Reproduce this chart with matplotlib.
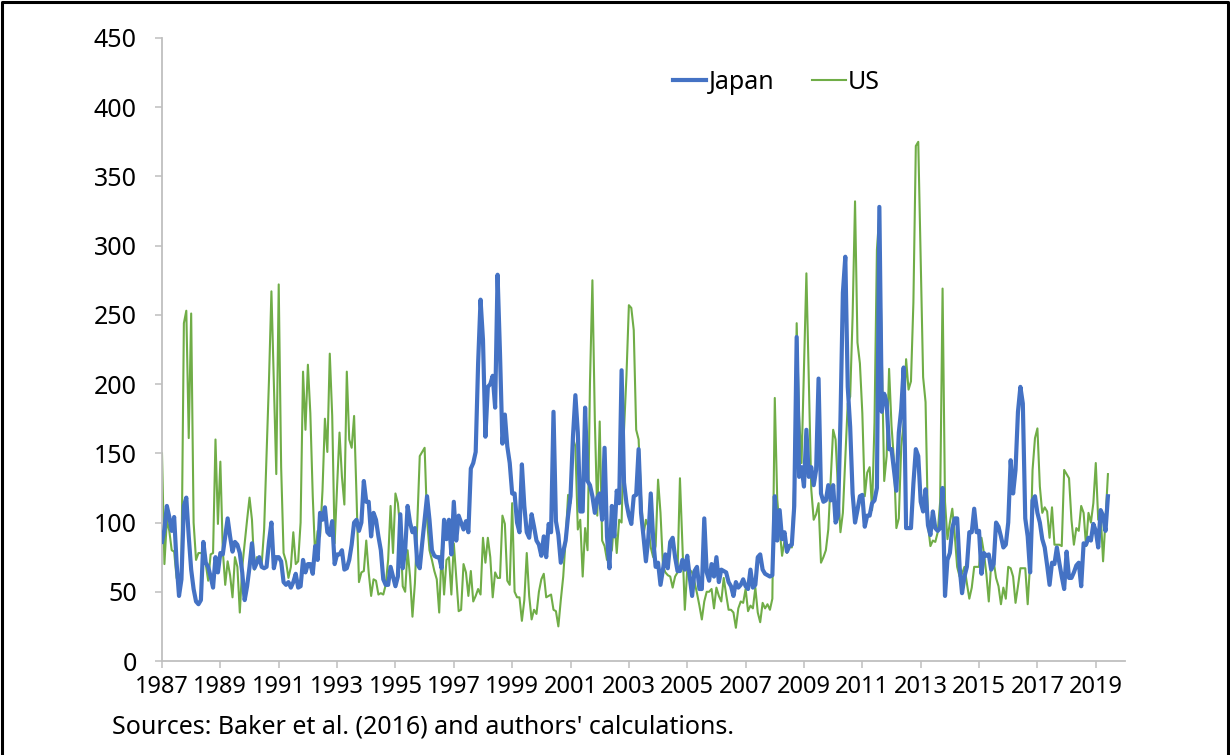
import matplotlib
matplotlib.use("Agg")
import matplotlib.pyplot as plt
from matplotlib.lines import Line2D
import numpy as np

plt.rcParams['font.family'] = ['Noto Sans', 'DejaVu Sans']

start_year = 1987
tick_years = list(range(1987, 2020, 2))
y_ticks = [0, 50, 100, 150, 200, 250, 300, 350, 400, 450]

# Monthly values, Jan 1987 - Jun 2019
japan = [
    86, 95, 112, 104, 94, 104, 71, 47, 59, 112, 118, 90,          # 1987
    66, 52, 43, 41, 44, 86, 71, 68, 61, 53, 75, 64,               # 1988
    78, 77, 90, 103, 90, 79, 86, 84, 78, 64, 44, 54,              # 1989
    68, 85, 67, 71, 75, 68, 67, 68, 86, 100, 67, 75,              # 1990
    75, 72, 57, 55, 57, 53, 57, 63, 53, 54, 73, 64,               # 1991
    70, 70, 63, 83, 73, 107, 102, 111, 93, 91, 101, 70,           # 1992
    77, 77, 80, 66, 67, 73, 84, 100, 102, 94, 100, 130,           # 1993
    115, 115, 90, 107, 102, 90, 80, 59, 55, 55, 68, 61,           # 1994
    54, 61, 106, 67, 80, 112, 100, 93, 96, 70, 67, 85,            # 1995
    102, 119, 102, 80, 76, 75, 75, 67, 102, 88, 102, 77,          # 1996
    115, 87, 105, 100, 95, 101, 93, 139, 143, 151, 215, 261,      # 1997
    232, 162, 198, 200, 206, 183, 279, 222, 157, 178, 155, 143,   # 1998
    121, 121, 100, 93, 142, 112, 93, 89, 106, 97, 87, 84,         # 1999
    76, 90, 75, 99, 93, 180, 101, 91, 71, 79, 87, 105,            # 2000
    119, 162, 192, 165, 108, 108, 183, 130, 127, 119, 107, 118,   # 2001
    121, 102, 154, 90, 67, 112, 90, 123, 114, 210, 129, 114,      # 2002
    105, 99, 119, 120, 153, 107, 90, 72, 89, 121, 88, 68,         # 2003
    71, 55, 66, 77, 67, 86, 89, 75, 65, 65, 73, 66,               # 2004
    76, 61, 47, 65, 68, 52, 52, 103, 64, 58, 70, 61,              # 2005
    75, 57, 66, 65, 64, 57, 54, 47, 57, 53, 55, 59,               # 2006
    54, 52, 66, 53, 55, 75, 77, 66, 63, 62, 61, 62,               # 2007
    119, 87, 109, 88, 93, 79, 83, 84, 112, 234, 133, 140,         # 2008
    126, 167, 133, 140, 127, 138, 204, 121, 115, 116, 127, 116,   # 2009
    127, 100, 105, 174, 266, 292, 198, 169, 121, 100, 109, 119,   # 2010
    120, 97, 105, 105, 114, 116, 125, 328, 180, 193, 187, 153,    # 2011
    153, 138, 123, 165, 182, 212, 96, 96, 96, 128, 153, 148,      # 2012
    115, 108, 124, 98, 91, 108, 96, 94, 96, 125, 47, 73,          # 2013
    78, 96, 103, 103, 68, 49, 61, 68, 93, 93, 110, 93,            # 2014
    94, 63, 78, 76, 77, 66, 70, 100, 97, 90, 82, 84,              # 2015
    100, 145, 121, 138, 180, 198, 186, 103, 90, 64, 116, 119,     # 2016
    107, 100, 88, 82, 69, 55, 71, 70, 82, 71, 61, 52,             # 2017
    79, 60, 60, 64, 69, 71, 54, 85, 84, 89, 87, 99,               # 2018
    94, 82, 109, 105, 94, 119,                                    # 2019
]

us = [
    150, 70, 102, 94, 80, 79, 60, 56, 66, 244, 253, 161,          # 1987
    251, 100, 73, 78, 78, 77, 70, 58, 77, 78, 160, 99,            # 1988
    144, 80, 55, 72, 62, 46, 75, 68, 35, 68, 85, 102,             # 1989
    118, 102, 66, 75, 72, 70, 95, 148, 203, 267, 200, 135,        # 1990
    272, 140, 78, 72, 60, 68, 93, 70, 72, 100, 209, 167,          # 1991
    214, 179, 119, 75, 94, 90, 123, 175, 151, 222, 177, 85,       # 1992
    126, 165, 133, 113, 209, 160, 154, 177, 119, 57, 64, 65,      # 1993
    87, 64, 47, 59, 58, 48, 49, 48, 55, 73, 112, 78,              # 1994
    121, 114, 95, 54, 50, 80, 61, 32, 56, 100, 148, 151,          # 1995
    154, 102, 80, 73, 65, 59, 35, 80, 48, 73, 75, 48,             # 1996
    85, 61, 36, 37, 70, 64, 47, 65, 43, 47, 52, 48,               # 1997
    89, 71, 89, 75, 46, 64, 60, 60, 105, 99, 58, 55,              # 1998
    114, 50, 46, 46, 29, 44, 78, 47, 30, 37, 34, 50,              # 1999
    59, 63, 46, 47, 48, 37, 36, 25, 44, 61, 88, 120,              # 2000
    114, 161, 155, 95, 102, 61, 96, 80, 201, 275, 174, 105,       # 2001
    173, 87, 83, 73, 77, 80, 103, 78, 102, 100, 167, 206,         # 2002
    257, 255, 239, 167, 160, 119, 91, 102, 97, 82, 75, 83,        # 2003
    131, 107, 69, 64, 62, 61, 53, 61, 64, 132, 85, 37,            # 2004
    66, 66, 64, 57, 49, 40, 30, 43, 50, 50, 52, 38,               # 2005
    53, 47, 43, 60, 48, 37, 37, 35, 24, 38, 43, 42,               # 2006
    52, 36, 40, 38, 53, 35, 28, 42, 38, 41, 37, 45,               # 2007
    190, 117, 95, 76, 87, 78, 84, 82, 129, 244, 177, 143,         # 2008
    210, 280, 203, 124, 102, 106, 114, 71, 75, 80, 95, 131,       # 2009
    167, 160, 124, 93, 107, 146, 186, 191, 249, 332, 230, 215,    # 2010
    179, 119, 136, 140, 109, 172, 297, 323, 220, 130, 148, 211,   # 2011
    170, 145, 96, 103, 155, 172, 218, 196, 202, 259, 372, 375,    # 2012
    290, 205, 187, 98, 83, 87, 86, 93, 115, 269, 115, 88,         # 2013
    100, 110, 91, 68, 61, 63, 68, 56, 45, 53, 68, 68,             # 2014
    68, 89, 78, 63, 43, 71, 72, 60, 54, 41, 53, 45,               # 2015
    68, 67, 61, 42, 54, 67, 67, 67, 41, 71, 138, 161,             # 2016
    168, 126, 107, 111, 108, 89, 111, 84, 84, 84, 83, 138,        # 2017
    135, 132, 102, 84, 96, 94, 112, 107, 83, 107, 100, 114,       # 2018
    143, 102, 107, 72, 102, 135,                                  # 2019
]

series_names = ["Japan", "US"]
source_note = "Sources: Baker et al. (2016) and authors' calculations."

blue = "#4472C4"
green = "#70AD47"
axis_grey = "#BFBFBF"

x_jp = start_year + np.arange(len(japan)) / 12.0
x_us = start_year + np.arange(len(us)) / 12.0

fig = plt.figure(figsize=(12.3, 7.55), dpi=100)
ax = fig.add_axes([0.1317, 0.1245, 0.7829, 0.8252])

ax.plot(x_jp, japan, color=blue, linewidth=3.0, solid_joinstyle='round', zorder=3)
ax.plot(x_us, us, color=green, linewidth=1.5, solid_joinstyle='round', zorder=2)

ax.set_xlim(1987, 2020)
ax.set_ylim(0, 450)
ax.set_yticks(y_ticks)
ax.set_xticks(tick_years)
ax.set_xticklabels([str(y) for y in tick_years])

for side in ["top", "right"]:
    ax.spines[side].set_visible(False)
for side in ["left", "bottom"]:
    ax.spines[side].set_color(axis_grey)
    ax.spines[side].set_linewidth(1.3)

fs = 18
ax.tick_params(axis='y', length=5, width=1.1, color=axis_grey, pad=13,
               labelsize=fs, labelcolor='black')
ax.tick_params(axis='x', length=5, width=1.1, color=axis_grey, pad=5,
               labelsize=17, labelcolor='black')

handles = [Line2D([0], [0], color=blue, linewidth=3.0),
           Line2D([0], [0], color=green, linewidth=1.5)]
ax.legend(handles, series_names, loc='center', bbox_to_anchor=(0.638, 0.929),
          ncol=2, frameon=False, fontsize=fs, handlelength=1.35,
          handletextpad=0.1, columnspacing=1.5)

fig.text(0.091, 0.037, source_note, fontsize=fs, ha='left', va='center')

# outer border (left, top, right)
border = Line2D([0.0015, 0.0015, 0.9985, 0.9985], [0.0, 0.998, 0.998, 0.0],
                transform=fig.transFigure, color='black', linewidth=2.2)
fig.add_artist(border)

fig.savefig("out.png", dpi=100)
